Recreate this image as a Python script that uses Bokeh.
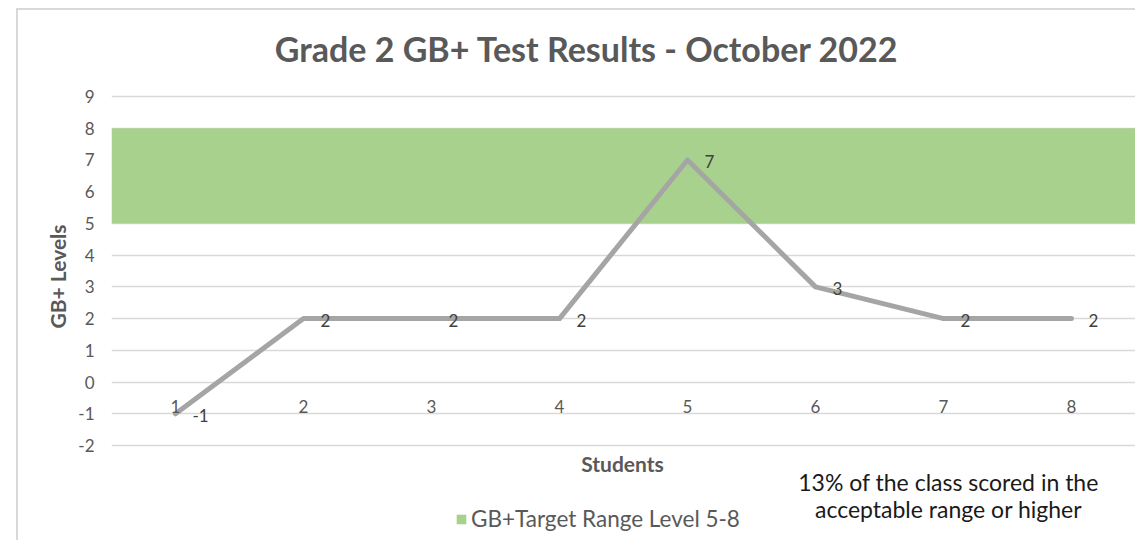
from bokeh.plotting import figure
from bokeh.models import Range1d, Label, Legend, LegendItem, ColumnDataSource, FixedTicker
from bokeh.core.properties import value
from bokeh.embed import file_html
from bokeh.resources import INLINE

# ---- data ----
students = [1, 2, 3, 4, 5, 6, 7, 8]
student_labels = ["1", "2", "3", "4", "5", "6", "7", "8"]
levels = [-1, 2, 2, 2, 7, 3, 2, 2]
level_labels = ["-1", "2", "2", "2", "7", "3", "2", "2"]
target_low = [5]
target_high = [8]
target_name = "GB+Target Range Level 5-8"
y_ticks = [-2, -1, 0, 1, 2, 3, 4, 5, 6, 7, 8, 9]
title_text = "Grade 2 GB+ Test Results - October 2022"
x_title = "Students"
y_title = "GB+ Levels"
note_lines = ["13% of the class scored in the", "acceptable range or higher"]

FONT = "Lato"
GREY = "#595959"

# layout: frame is 532 px tall; value axis -2..9 occupies 349 px of it
PX_PER_UNIT = 349 / 11.0
y_lo = min(y_ticks) - 97 / PX_PER_UNIT
y_hi = max(y_ticks) + 86 / PX_PER_UNIT

p = figure(width=1119, height=532, output_backend="svg", toolbar_location=None,
           title=None, x_axis_location=None,
           x_range=Range1d(min(students) - 0.5, max(students) + 0.5),
           y_range=Range1d(y_lo, y_hi),
           min_border_left=93, min_border_right=2, min_border_top=0, min_border_bottom=0,
           margin=(8, 0, 0, 16),
           styles={"border-left": "2px solid #D9D9D9", "border-top": "2px solid #D9D9D9"})
p.outline_line_color = None
p.background_fill_color = "white"
p.border_fill_color = "white"

# value axis
p.xgrid.visible = False
p.yaxis.ticker = FixedTicker(ticks=y_ticks)
p.yaxis.bounds = (min(y_ticks), max(y_ticks))
p.yaxis.major_label_overrides = {t: str(t) for t in y_ticks}
p.yaxis.axis_line_color = None
p.yaxis.major_tick_line_color = None
p.yaxis.minor_tick_line_color = None
p.yaxis.major_tick_out = 0
p.yaxis.major_label_standoff = 17
p.yaxis.major_label_text_font = FONT
p.yaxis.major_label_text_font_size = "17px"
p.yaxis.major_label_text_color = GREY
p.yaxis.axis_label = y_title
p.yaxis.axis_label_text_font = FONT
p.yaxis.axis_label_text_font_style = "bold"
p.yaxis.axis_label_text_font_size = "21px"
p.yaxis.axis_label_text_color = GREY
p.yaxis.axis_label_standoff = 5
p.ygrid.grid_line_color = "#D9D9D9"
p.ygrid.grid_line_width = 1.5

# target band
band = p.quad(left=[min(students) - 0.5], right=[max(students) + 0.5],
              bottom=target_low, top=target_high,
              fill_color="#A9D18E", line_color=None)

# series line
src = ColumnDataSource(dict(x=students, y=levels, lab=level_labels,
                            cl=student_labels, zero=[0] * len(students)))
p.line("x", "y", source=src, line_color="#A5A5A5", line_width=5,
       line_join="round", line_cap="round")

# category labels (category axis crosses at 0)
p.text("x", "zero", text="cl", source=src, text_font=value(FONT), text_font_size="17px",
       text_color=GREY, text_align="center", text_baseline="middle", y_offset=24)

# data labels
p.text("x", "y", text="lab", source=src, text_font=value(FONT), text_font_size="17px",
       text_color="#404040", text_align="left", text_baseline="middle",
       x_offset=17, y_offset=2)

# legend (inside the frame, below the value area)
legend = Legend(items=[LegendItem(label=target_name, renderers=[band])],
                location=(344, 10), orientation="horizontal",
                border_line_color=None, background_fill_alpha=0,
                padding=0, margin=0, glyph_width=12, glyph_height=12,
                label_text_font=FONT, label_text_font_size="22.5px",
                label_text_color=GREY, label_standoff=4)
p.add_layout(legend)

# chart title
p.add_layout(Label(x=475.5, y=494, x_units="screen", y_units="screen", text=title_text,
                   text_font=FONT, text_font_style="bold", text_font_size="34px",
                   text_color=GREY, text_align="center", text_baseline="middle"))
# category axis title
p.add_layout(Label(x=511, y=79, x_units="screen", y_units="screen", text=x_title,
                   text_font=FONT, text_font_style="bold", text_font_size="21px",
                   text_color=GREY, text_align="center", text_baseline="middle"))
# note
for i, line in enumerate(note_lines):
    p.add_layout(Label(x=837, y=61 - 27 * i, x_units="screen", y_units="screen", text=line,
                       text_font=FONT, text_font_size="23px",
                       text_color="#1A1A1A", text_align="center", text_baseline="middle"))

open("out.html", "w").write(file_html(p, INLINE))
